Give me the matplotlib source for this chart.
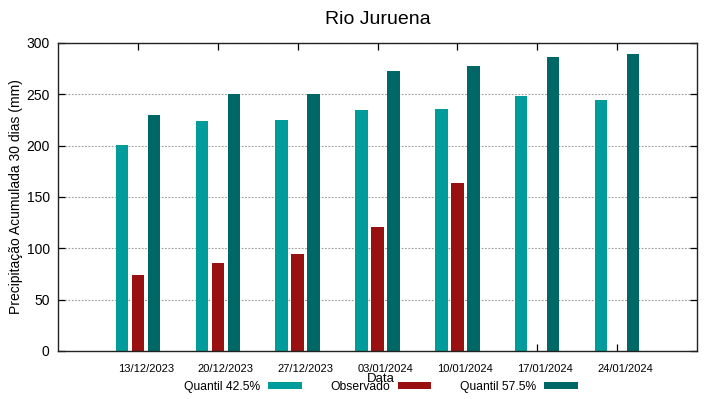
import numpy as np
import matplotlib
matplotlib.use("Agg")
import matplotlib.pyplot as plt
from matplotlib.transforms import ScaledTranslation

plt.rcParams['font.family'] = ['Liberation Sans', 'DejaVu Sans']

# ---- data ----
dates = ["13/12/2023", "20/12/2023", "27/12/2023", "03/01/2024",
         "10/01/2024", "17/01/2024", "24/01/2024"]
q425 = [201, 224, 225, 235, 236, 248, 244]
observado = [74, 86, 94, 121, 164, np.nan, np.nan]
q575 = [230, 250, 250, 273, 278, 286, 289]

c_q425 = "#009b9b"
c_obs = "#991010"
c_q575 = "#006767"

fig = plt.figure(figsize=(7.19, 3.99), dpi=100)
ax = fig.add_axes([58/719, 1-351/399, 639/719, 308/399])

x = np.arange(1, len(dates) + 1)
w = 0.155
off = 0.2
b1 = ax.bar(x - off, q425, width=w, color=c_q425, label="Quantil 42.5%", zorder=2)
b2 = ax.bar(x, np.asarray(observado, dtype=float), width=w, color=c_obs, label="Observado", zorder=2)
b3 = ax.bar(x + off, q575, width=w, color=c_q575, label="Quantil 57.5%", zorder=2)

ax.set_xlim(0, 8)
ax.set_ylim(0, 300)
ax.set_yticks([0, 50, 100, 150, 200, 250, 300])
ax.set_xticks(x)
ax.set_xticklabels(dates, fontsize=8)
ax.tick_params(axis='y', labelsize=10, direction='in', length=5, right=True, width=0.9, pad=6)
ax.tick_params(axis='x', direction='in', length=5, top=True, width=0.9, pad=9)
shift = ScaledTranslation(8/100, 0, fig.dpi_scale_trans)
for lab in ax.get_xticklabels():
    lab.set_transform(lab.get_transform() + shift)

ax.yaxis.grid(True, linestyle=(0, (1.5, 1.5)), color="#9a9a9a", linewidth=0.8)
ax.set_axisbelow(True)
for s in ax.spines.values():
    s.set_linewidth(1.0)
    s.set_color("#222222")

ax.set_title("Rio Juruena", fontsize=14, pad=14)
ax.set_ylabel("Precipitação Acumulada 30 dias (mm)", fontsize=10)
ax.yaxis.set_label_coords(-0.054, 0.5)
ax.set_xlabel("Data", fontsize=9.5)
ax.xaxis.set_label_coords(0.505, -0.072)

fig.legend(handles=[b1, b2, b3], labels=["Quantil 42.5%", "Observado", "Quantil 57.5%"],
           loc='center', bbox_to_anchor=(381/719, 1-387/399), ncol=3, frameon=False,
           markerfirst=False, fontsize=8.7, handlelength=2.8, handleheight=0.5,
           handletextpad=0.6, columnspacing=2.4, borderpad=0, borderaxespad=0)

fig.savefig("out.png", dpi=100)
